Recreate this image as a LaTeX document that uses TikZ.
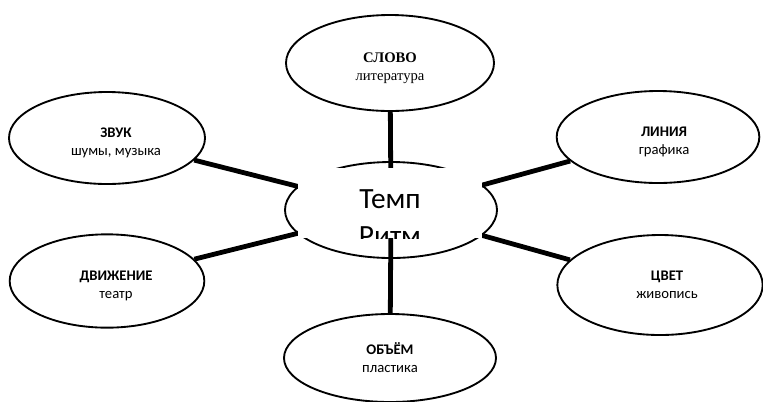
\documentclass[tikz,border=0pt]{standalone}
\usepackage{fontspec}
\setmainfont{Carlito}
\newfontfamily\timesfont{Liberation Serif}
\usetikzlibrary{shapes.geometric}

\tikzset{
 theme/.style={draw=black, line width=1.4pt, ellipse, fill=white, inner sep=0pt,
   minimum width=152pt, minimum height=70pt},
 themetext/.style={align=center, inner sep=0pt, font=\fontsize{11}{13.5}\selectfont},
 link/.style={line width=3.6pt},
 centretext/.style={anchor=base, inner sep=0pt, font=\fontsize{22}{26}\selectfont},
}

\newcommand{\themenode}[6][]{%
 \node[theme,#1] ({#2}) at ({#3}) {};%
 \node[themetext] ({#2-text}) at ([shift={(#4)}]{#2}.center) {\textbf{#5}\\#6};%
}

\begin{document}
\begin{tikzpicture}[x=0.75pt,y=-0.75pt]
 \useasboundingbox (0,0) rectangle (763,401);
 \node[theme,minimum width=159pt,minimum height=72pt] (centre) at (391,210) {};
 \themenode[minimum width=156pt,minimum height=72pt]{slovo}{390,63}{0,5}{\timesfont СЛОВО}{\timesfont литература};
 \themenode[minimum width=147pt,minimum height=69pt]{zvuk}{107,138}{9,5}{ЗВУК}{шумы, музыка};
 \themenode[minimum width=152pt,minimum height=69pt]{linia}{658,137}{6,5}{ЛИНИЯ}{графика};
 \themenode[minimum width=146pt,minimum height=70pt]{dvizhenie}{107,281}{9,5}{ДВИЖЕНИЕ}{театр};
 \themenode[minimum width=154pt,minimum height=75pt]{cvet}{660,285}{7,0}{ЦВЕТ}{живопись};
 \themenode[minimum width=159pt,minimum height=66pt]{obem}{390,358}{0,0}{ОБЪЁМ}{пластика};
 % links from the centre
 \draw[link] (centre.center) -- (slovo);
 \draw[link] (centre.center) -- (zvuk);
 \draw[link] (centre.center) -- (linia);
 \draw[link] (centre.center) -- (dvizhenie);
 \draw[link] (centre.center) -- (cvet);
 \draw[link] (centre.center) -- (obem);
 % text box over the centre
 \node[fill=white, inner sep=0pt, minimum width=138pt, minimum height=52.5pt] (cover) at (390,203) {};
 \begin{scope}
  \clip (cover.south west) rectangle (cover.north east);
  \node[centretext] (temp) at (390,208) {Темп};
  \node[centretext] (ritm) at (390,245) {Ритм};
 \end{scope}
\end{tikzpicture}
\end{document}
